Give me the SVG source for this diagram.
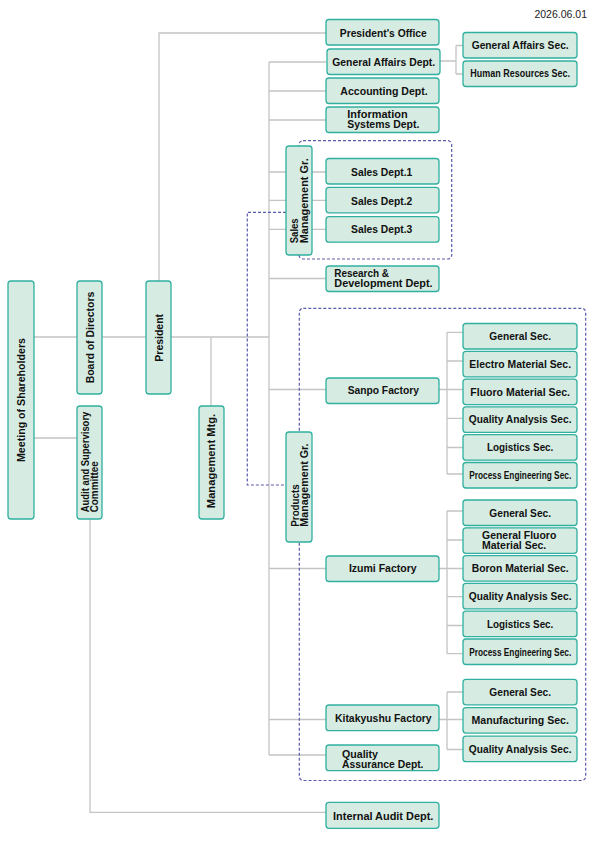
<svg xmlns="http://www.w3.org/2000/svg" width="595" height="842" viewBox="0 0 595 842">
<style>
.bx{fill:#d6ebe1;stroke:#2fb0a0;stroke-width:1.3}
.ln{stroke:#c4c4c4;stroke-width:1.3;fill:none}
.ds{stroke:#5b5bab;stroke-width:1.2;stroke-dasharray:3 2;fill:none}
.t{font-family:"Liberation Sans",Arial,sans-serif;font-weight:bold;font-size:11px;fill:#111}
.t2{font-size:10px}
.sm{font-size:10px}
.c{text-anchor:middle}
.dt{font-family:"Liberation Sans",Arial,sans-serif;font-size:10.5px;fill:#222;text-anchor:end}
</style>
<rect width="595" height="842" fill="#fff"/>
<text class="dt" x="587" y="18">2026.06.01</text>
<g id="connectors">
<path class="ln" d="M34 337H77M102 337H146M171 337H269M211 337V406M34 438H77"/>
<path class="ln" d="M90 519V812.3H326"/>
<path class="ln" d="M159 281V33H326"/>
<path class="ln" d="M269 62V755"/>
<path class="ln" d="M269 62H326M269 91H326M269 120H326M269 172H326M269 200.3H326M269 229.3H326M269 278.5H326M269 389.5H326M269 568.5H326M269 719.5H326M269 755H326"/>
<path class="ln" d="M440 61H456M456 45.5V74M456 45.5H463M456 74H463"/>
<path class="ln" d="M439 389.5H463M447 332.3V474M447 332.3H463M447 361H463M447 418.3H463M447 447.5H463M447 474H463"/>
<path class="ln" d="M439 568.5H463M447 511V653.7M447 511H463M447 540H463M447 596.7H463M447 625.5H463M447 653.7H463"/>
<path class="ln" d="M439 719.5H463M447 692V749.5M447 692H463M447 749.5H463"/>
<rect class="ds" x="299" y="140.7" width="152.7" height="118.3" rx="4"/>
<rect class="ds" x="299.3" y="308.3" width="286.4" height="472.2" rx="4"/>
<path class="ds" d="M286 212.3H247.3V485H286"/>
</g>
<g id="n-meeting"><rect class="bx" x="8" y="281" width="26" height="238" rx="3"/><text class="t c" transform="translate(21 400) rotate(-90)" y="4" textLength="124" lengthAdjust="spacingAndGlyphs">Meeting of Shareholders</text></g>
<g id="n-board"><rect class="bx" x="77" y="281" width="25" height="113" rx="3"/><text class="t c" transform="translate(89.5 337.5) rotate(-90)" y="4.3" textLength="91.6" lengthAdjust="spacingAndGlyphs">Board of Directors</text></g>
<g id="n-audit"><rect class="bx" x="77" y="406" width="25" height="113" rx="3"/><g transform="translate(80 512.3) rotate(-90)"><text class="t t2" y="8.7" textLength="100.6" lengthAdjust="spacingAndGlyphs">Audit and Supervisory</text><text class="t t2" y="18.2" textLength="51" lengthAdjust="spacingAndGlyphs">Committee</text></g></g>
<g id="n-president"><rect class="bx" x="146" y="281" width="25" height="113" rx="3"/><text class="t c" transform="translate(158.5 337.8) rotate(-90)" y="4.3" textLength="47.7" lengthAdjust="spacingAndGlyphs">President</text></g>
<g id="n-mgmt"><rect class="bx" x="199" y="406" width="25" height="113" rx="3"/><text class="t c" transform="translate(211.5 461) rotate(-90)" y="3.5" textLength="94.3" lengthAdjust="spacingAndGlyphs">Management Mtg.</text></g>
<g id="n-salesgr"><rect class="bx" x="286" y="146" width="26" height="109" rx="3"/><g transform="translate(289.5 243.3) rotate(-90)"><text class="t t2" y="8" textLength="25" lengthAdjust="spacingAndGlyphs">Sales</text><text class="t t2" y="18" textLength="85" lengthAdjust="spacingAndGlyphs">Management Gr.</text></g></g>
<g id="n-prodgr"><rect class="bx" x="286" y="432" width="26" height="110" rx="3"/><g transform="translate(290.5 526.7) rotate(-90)"><text class="t t2" y="8" textLength="42.4" lengthAdjust="spacingAndGlyphs">Products</text><text class="t t2" y="17.4" textLength="83.3" lengthAdjust="spacingAndGlyphs">Management Gr.</text></g></g>
<g id="n-presoffice"><rect class="bx" x="326" y="19.5" width="113" height="25.5" rx="3"/><text class="t c" x="383.3" y="36.5" textLength="87" lengthAdjust="spacingAndGlyphs">President's Office</text></g>
<g id="n-gadept"><rect class="bx" x="327" y="49" width="113" height="25.5" rx="3"/><text class="t c" x="383.7" y="65.5" textLength="103" lengthAdjust="spacingAndGlyphs">General Affairs Dept.</text></g>
<g id="n-acct"><rect class="bx" x="326" y="78" width="113" height="25.5" rx="3"/><text class="t c" x="384" y="94.5" textLength="87.3" lengthAdjust="spacingAndGlyphs">Accounting Dept.</text></g>
<g id="n-is"><rect class="bx" x="326" y="107" width="113" height="25.5" rx="3"/><text class="t t2" x="347.3" y="118.3" textLength="60.3" lengthAdjust="spacingAndGlyphs">Information</text><text class="t t2" x="347.3" y="128.3" textLength="72" lengthAdjust="spacingAndGlyphs">Systems Dept.</text></g>
<g id="n-sales1"><rect class="bx" x="326" y="158.5" width="113" height="25.5" rx="3"/><text class="t c" x="381.7" y="176" textLength="61.3" lengthAdjust="spacingAndGlyphs">Sales Dept.1</text></g>
<g id="n-sales2"><rect class="bx" x="326" y="187.3" width="113" height="25.5" rx="3"/><text class="t c" x="381.7" y="204.5" textLength="61.3" lengthAdjust="spacingAndGlyphs">Sales Dept.2</text></g>
<g id="n-sales3"><rect class="bx" x="326" y="216.7" width="113" height="25.5" rx="3"/><text class="t c" x="381.7" y="233.3" textLength="61.3" lengthAdjust="spacingAndGlyphs">Sales Dept.3</text></g>
<g id="n-rd"><rect class="bx" x="326" y="266" width="113" height="25.5" rx="3"/><text class="t t2" x="334.3" y="276.7" textLength="54.7" lengthAdjust="spacingAndGlyphs">Research &amp;</text><text class="t t2" x="334.3" y="286.7" textLength="98.3" lengthAdjust="spacingAndGlyphs">Development Dept.</text></g>
<g id="n-sanpo"><rect class="bx" x="326" y="378" width="113" height="25.5" rx="3"/><text class="t c" x="383.3" y="394.3" textLength="71.3" lengthAdjust="spacingAndGlyphs">Sanpo Factory</text></g>
<g id="n-izumi"><rect class="bx" x="326" y="556" width="113" height="25.5" rx="3"/><text class="t c" x="382.8" y="571.9" textLength="67.7" lengthAdjust="spacingAndGlyphs">Izumi Factory</text></g>
<g id="n-kita"><rect class="bx" x="326" y="705" width="113" height="25.7" rx="3"/><text class="t c" x="383.3" y="722" textLength="96.6" lengthAdjust="spacingAndGlyphs">Kitakyushu Factory</text></g>
<g id="n-qa"><rect class="bx" x="326" y="745" width="113" height="25.7" rx="3"/><text class="t t2" x="342" y="757.5" textLength="36" lengthAdjust="spacingAndGlyphs">Quality</text><text class="t t2" x="342" y="767.8" textLength="81.5" lengthAdjust="spacingAndGlyphs">Assurance Dept.</text></g>
<g id="n-internal"><rect class="bx" x="326" y="802.3" width="113" height="26" rx="3"/><text class="t c" x="383.2" y="819.5" textLength="100.3" lengthAdjust="spacingAndGlyphs">Internal Audit Dept.</text></g>
<g id="n-gasec"><rect class="bx" x="463" y="32.5" width="114" height="25.5" rx="3"/><text class="t c" x="520.2" y="49.3" textLength="97" lengthAdjust="spacingAndGlyphs">General Affairs Sec.</text></g>
<g id="n-hrsec"><rect class="bx" x="463" y="61" width="114" height="25.5" rx="3"/><text class="t c sm" x="520.2" y="77.3" textLength="99.7" lengthAdjust="spacingAndGlyphs">Human Resources Sec.</text></g>
<g id="n-s-gen"><rect class="bx" x="463" y="323.5" width="114" height="25.5" rx="3"/><text class="t c" x="520.2" y="340.2" textLength="61.7" lengthAdjust="spacingAndGlyphs">General Sec.</text></g>
<g id="n-s-elec"><rect class="bx" x="463" y="351.3" width="114" height="25.5" rx="3"/><text class="t c" x="520.2" y="368" textLength="101.7" lengthAdjust="spacingAndGlyphs">Electro Material Sec.</text></g>
<g id="n-s-fluoro"><rect class="bx" x="463" y="379.1" width="114" height="25.5" rx="3"/><text class="t c" x="520.2" y="395.8" textLength="99.7" lengthAdjust="spacingAndGlyphs">Fluoro Material Sec.</text></g>
<g id="n-s-qa"><rect class="bx" x="463" y="406.9" width="114" height="25.5" rx="3"/><text class="t c" x="520.2" y="423.2" textLength="102.7" lengthAdjust="spacingAndGlyphs">Quality Analysis Sec.</text></g>
<g id="n-s-log"><rect class="bx" x="463" y="434.7" width="114" height="25.5" rx="3"/><text class="t c" x="520.2" y="451" textLength="66.3" lengthAdjust="spacingAndGlyphs">Logistics Sec.</text></g>
<g id="n-s-pe"><rect class="bx" x="463" y="462.5" width="114" height="25.5" rx="3"/><text class="t c sm" x="520.2" y="478.6" textLength="102" lengthAdjust="spacingAndGlyphs">Process Engineering Sec.</text></g>
<g id="n-i-gen"><rect class="bx" x="463" y="500" width="114" height="25.5" rx="3"/><text class="t c" x="520.2" y="517" textLength="61.7" lengthAdjust="spacingAndGlyphs">General Sec.</text></g>
<g id="n-i-gf"><rect class="bx" x="463" y="527.8" width="114" height="25.5" rx="3"/><text class="t t2" x="482" y="539" textLength="74.3" lengthAdjust="spacingAndGlyphs">General Fluoro</text><text class="t t2" x="482" y="549" textLength="64.3" lengthAdjust="spacingAndGlyphs">Material Sec.</text></g>
<g id="n-i-boron"><rect class="bx" x="463" y="555.6" width="114" height="25.5" rx="3"/><text class="t c" x="520.2" y="572.3" textLength="97" lengthAdjust="spacingAndGlyphs">Boron Material Sec.</text></g>
<g id="n-i-qa"><rect class="bx" x="463" y="583.4" width="114" height="25.5" rx="3"/><text class="t c" x="520.2" y="600" textLength="102.7" lengthAdjust="spacingAndGlyphs">Quality Analysis Sec.</text></g>
<g id="n-i-log"><rect class="bx" x="463" y="611.2" width="114" height="25.5" rx="3"/><text class="t c" x="520.2" y="627.8" textLength="66.3" lengthAdjust="spacingAndGlyphs">Logistics Sec.</text></g>
<g id="n-i-pe"><rect class="bx" x="463" y="639" width="114" height="25.5" rx="3"/><text class="t c sm" x="520.2" y="655.7" textLength="102" lengthAdjust="spacingAndGlyphs">Process Engineering Sec.</text></g>
<g id="n-k-gen"><rect class="bx" x="463" y="679.3" width="114" height="25.5" rx="3"/><text class="t c" x="520.2" y="696" textLength="61.7" lengthAdjust="spacingAndGlyphs">General Sec.</text></g>
<g id="n-k-mfg"><rect class="bx" x="463" y="707.6" width="114" height="25.5" rx="3"/><text class="t c" x="520.2" y="724.3" textLength="97.3" lengthAdjust="spacingAndGlyphs">Manufacturing Sec.</text></g>
<g id="n-k-qa"><rect class="bx" x="463" y="736.2" width="114" height="25.5" rx="3"/><text class="t c" x="520.2" y="753" textLength="102.7" lengthAdjust="spacingAndGlyphs">Quality Analysis Sec.</text></g>
</svg>
